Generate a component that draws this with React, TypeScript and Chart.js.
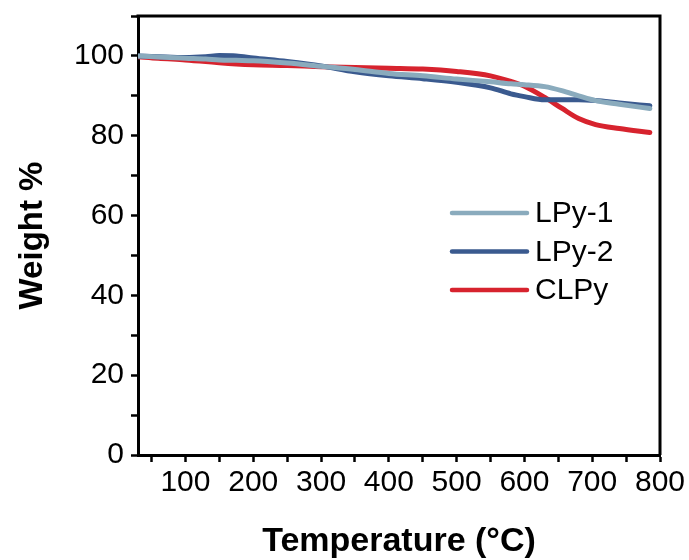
import React, { useEffect, useRef } from "react";
import { Chart, registerables } from "chart.js";

Chart.register(...registerables);

const temperatures = [30, 60, 100, 130, 150, 175, 200, 250, 300, 350, 400, 450, 500, 550, 580, 600, 630, 655, 680, 705, 740, 785];
const lpy1 = [100, 99.7, 99.4, 99.2, 99.0, 98.9, 98.8, 98.2, 97.4, 96.6, 95.6, 95.0, 94.2, 93.5, 93.0, 92.8, 92.3, 91.3, 90.0, 88.8, 87.9, 86.8];
const lpy2 = [100, 99.8, 99.6, 99.8, 100.1, 100.0, 99.5, 98.6, 97.5, 96.0, 95.0, 94.3, 93.4, 92.0, 90.5, 89.8, 89.0, 89.0, 89.0, 88.8, 88.2, 87.5];
const clpy = [99.8, 99.4, 99.0, 98.6, 98.3, 98.0, 97.8, 97.6, 97.3, 97.1, 96.9, 96.7, 96.1, 95.0, 93.6, 92.4, 89.6, 86.9, 84.3, 82.8, 81.8, 80.8];

const seriesLabels = ["LPy-1", "LPy-2", "CLPy"];
const seriesColors = ["#8aabbd", "#3a5a8f", "#d7232e"];
const xTitle = "Temperature (°C)";
const yTitle = "Weight %";

const FONT = "'Liberation Sans', Arial, Helvetica, sans-serif";

const boxPlugin = {
  id: "boxPlugin",
  afterDraw(chart: any) {
    const { ctx, chartArea } = chart;
    ctx.save();
    ctx.strokeStyle = "#000";
    ctx.lineWidth = 3;
    ctx.beginPath();
    ctx.moveTo(chartArea.left - 1.5, chartArea.top);
    ctx.lineTo(chartArea.right, chartArea.top);
    ctx.lineTo(chartArea.right, chartArea.bottom);
    ctx.stroke();
    ctx.restore();
  },
};

const legendPlugin = {
  id: "insideLegend",
  afterDatasetsDraw(chart: any) {
    const { ctx, chartArea } = chart;
    const x0 = chartArea.left + 314;
    const y0 = chartArea.top + 197;
    const gap = 38.5;
    ctx.save();
    chart.data.datasets.forEach((ds: any, i: number) => {
      const y = y0 + i * gap;
      ctx.strokeStyle = ds.borderColor;
      ctx.lineWidth = 4.5;
      ctx.lineCap = "round";
      ctx.beginPath();
      ctx.moveTo(x0, y);
      ctx.lineTo(x0 + 75, y);
      ctx.stroke();
      ctx.fillStyle = "#000";
      ctx.font = `30px ${FONT}`;
      ctx.textBaseline = "middle";
      ctx.textAlign = "left";
      ctx.fillText(ds.label, x0 + 83, y + 1);
    });
    ctx.restore();
  },
};

export default function App() {
  const ref = useRef<HTMLCanvasElement>(null);

  useEffect(() => {
    if (!ref.current) return;
    const mk = (vals: number[]) => temperatures.map((t, i) => ({ x: t, y: vals[i] }));
    const chart = new Chart(ref.current, {
      type: "line",
      data: {
        datasets: [lpy1, lpy2, clpy].map((vals, i) => ({
          label: seriesLabels[i],
          data: mk(vals),
          borderColor: seriesColors[i],
          backgroundColor: seriesColors[i],
          borderWidth: 5,
          pointRadius: 0,
          fill: false,
          cubicInterpolationMode: "monotone" as const,
          borderCapStyle: "round" as const,
        })),
      },
      options: {
        animation: false,
        responsive: false,
        layout: { padding: { top: 16, right: 29, left: 0, bottom: 0 } },
        plugins: { legend: { display: false }, tooltip: { enabled: false } },
        scales: {
          x: {
            type: "linear",
            min: 30,
            max: 800,
            afterFit: (s: any) => {
              s.height = 105;
              s.paddingLeft = 0;
              s.paddingRight = 0;
            },
            border: { display: true, color: "#000", width: 3 },
            grid: {
              display: true,
              drawOnChartArea: false,
              drawTicks: true,
              tickLength: 7,
              tickColor: "#000",
              tickWidth: 2.5,
            },
            ticks: {
              stepSize: 50,
              includeBounds: false,
              autoSkip: false,
              maxRotation: 0,
              padding: 3,
              color: "#000",
              font: { family: FONT, size: 30 },
              callback: (v: any) => (Number(v) % 100 === 0 ? String(v) : ""),
            },
            title: {
              display: true,
              text: xTitle,
              color: "#000",
              font: { family: FONT, size: 34, weight: "bold" },
              padding: { top: 0, bottom: -2 },
            },
          },
          y: {
            type: "linear",
            min: 0,
            max: 110,
            afterFit: (s: any) => {
              s.width = 138;
              s.paddingTop = 0;
              s.paddingBottom = 0;
            },
            border: { display: true, color: "#000", width: 3 },
            grid: {
              display: true,
              drawOnChartArea: false,
              drawTicks: true,
              tickLength: 7,
              tickColor: "#000",
              tickWidth: 2.5,
            },
            ticks: {
              stepSize: 10,
              includeBounds: false,
              autoSkip: false,
              padding: 7,
              color: "#000",
              font: { family: FONT, size: 30 },
              callback: (v: any) => (Number(v) % 20 === 0 ? String(v) : ""),
            },
            title: {
              display: true,
              text: yTitle,
              color: "#000",
              font: { family: FONT, size: 33, weight: "bold" },
              padding: { top: 13, bottom: 0 },
            },
          },
        },
      },
      plugins: [boxPlugin, legendPlugin],
    });
    return () => chart.destroy();
  }, []);

  return (
    <div style={{ position: "absolute", left: 0, top: 0, width: 689, height: 560, background: "#fff" }}>
      <canvas ref={ref} width={689} height={560} style={{ display: "block" }} />
    </div>
  );
}
